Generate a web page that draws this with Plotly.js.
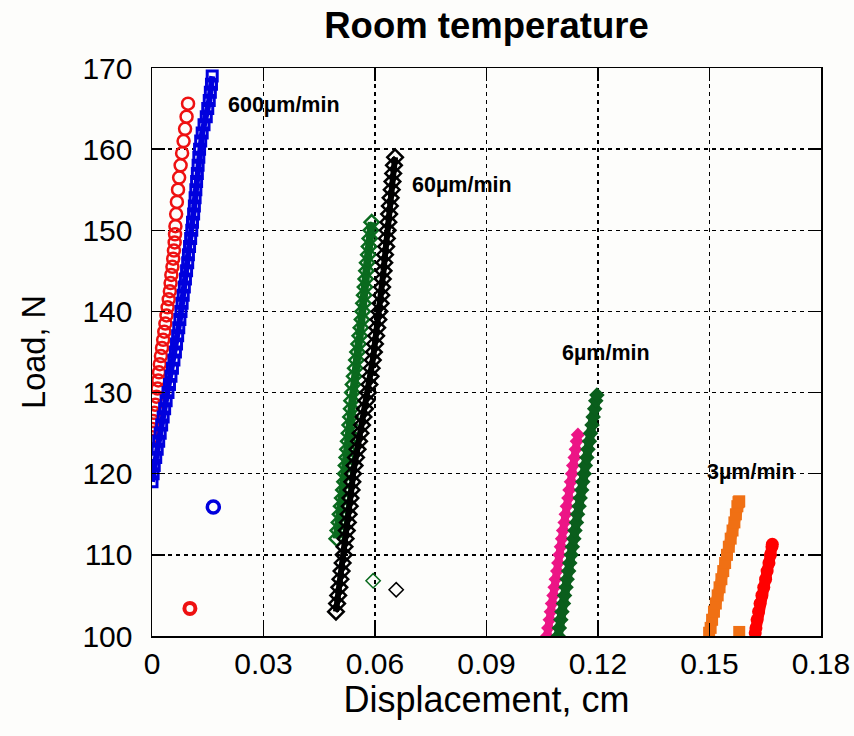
<!DOCTYPE html>
<html>
<head>
<meta charset="utf-8">
<script src="https://cdn.plot.ly/plotly-3.0.1.min.js"></script>
<style>html,body{margin:0;padding:0;background:#fdfdfb;}#chart{width:854px;height:736px;}</style>
</head>
<body>
<div id="chart"></div>
<script>
// 600 µm/min, run 1 (red open circles)
const red600X = [0.0000,0.0001,0.0003,0.0006,0.0009,0.0012,0.0015,0.0017,0.0019,0.0021,0.0024,0.0027,0.0030,0.0033,0.0036,0.0039,0.0042,0.0045,0.0048,0.0050,0.0052,0.0055,0.0057,0.0059,0.0061,0.0062,0.0063,0.0065,0.0067,0.0070,0.0073,0.0077,0.0081,0.0085,0.0089,0.0093,0.0097];
const red600Y = [124.5,125.5,126.5,127.5,128.5,129.5,130.5,131.5,132.5,133.5,134.5,135.5,136.5,137.5,138.5,139.5,140.5,141.5,142.5,143.5,144.5,145.5,146.5,147.5,148.5,149.5,150.5,152,153.5,155,156.5,158,159.5,161,162.5,164,165.6];
const red600IsoX = [0.0102];
const red600IsoY = [103.4];
// 600 µm/min, run 2 (blue open squares)
const blue600X = [0.0000,0.0003,0.0006,0.0010,0.0014,0.0018,0.0022,0.0026,0.0030,0.0034,0.0038,0.0043,0.0047,0.0051,0.0055,0.0059,0.0063,0.0066,0.0069,0.0072,0.0075,0.0078,0.0081,0.0084,0.0087,0.0090,0.0093,0.0096,0.0098,0.0101,0.0104,0.0107,0.0109,0.0112,0.0114,0.0116,0.0118,0.0120,0.0122,0.0124,0.0126,0.0128,0.0131,0.0135,0.0140,0.0146,0.0150,0.0154,0.0157,0.0160,0.0162];
const blue600Y = [119,120,121,122,123,124,125,126,127,128,129,130,131,132,133,134,135,136,137,138,139,140,141,142,143,144,145,146,147,148,149,150,151,152,153,154,155,156,157,158,159,160,161,162,163,164,165,166,167,168,169];
const blue600IsoX = [0.0165];
const blue600IsoY = [115.9];
// 60 µm/min, run 1 (green open diamonds)
const green60X = [0.0497,0.0500,0.0503,0.0506,0.0509,0.0512,0.0515,0.0518,0.0520,0.0522,0.0524,0.0526,0.0528,0.0530,0.0532,0.0534,0.0536,0.0537,0.0539,0.0541,0.0544,0.0547,0.0550,0.0553,0.0556,0.0559,0.0562,0.0565,0.0567,0.0569,0.0571,0.0573,0.0575,0.0577,0.0579,0.0582,0.0584,0.0586,0.0589,0.0591];
const green60Y = [112,113,114,115,116,117,118,119,120,121,122,123,124,125,126,127,128,129,130,131,132,133,134,135,136,137,138,139,140,141,142,143,144,145,146,147,148,149,150,151];
const green60IsoX = [0.0595];
const green60IsoY = [106.8];
// 60 µm/min, run 2 (black open diamonds)
const black60X = [0.0495,0.0498,0.0501,0.0504,0.0507,0.0510,0.0513,0.0516,0.0518,0.0521,0.0524,0.0527,0.0529,0.0532,0.0534,0.0537,0.0539,0.0541,0.0545,0.0549,0.0553,0.0557,0.0561,0.0565,0.0569,0.0573,0.0577,0.0581,0.0585,0.0588,0.0591,0.0594,0.0597,0.0600,0.0603,0.0606,0.0609,0.0612,0.0615,0.0617,0.0619,0.0621,0.0623,0.0625,0.0627,0.0630,0.0632,0.0634,0.0636,0.0638,0.0640,0.0642,0.0645,0.0647,0.0649,0.0651,0.0654];
const black60Y = [103,104,105,106,107,108,109,110,111,112,113,114,115,116,117,118,119,120,121,122,123,124,125,126,127,128,129,130,131,132,133,134,135,136,137,138,139,140,141,142,143,144,145,146,147,148,149,150,151,152,153,154,155,156,157,158,159];
const black60IsoX = [0.0657];
const black60IsoY = [105.7];
// 6 µm/min, run 1 (pink)
const pink6X = [0.1063,0.1066,0.1070,0.1073,0.1076,0.1080,0.1083,0.1086,0.1090,0.1093,0.1096,0.1100,0.1103,0.1106,0.1110,0.1113,0.1116,0.1120,0.1123,0.1127,0.1130,0.1133,0.1137,0.1140,0.1143,0.1146];
const pink6Y = [100,101,102,103,104,105,106,107,108,109,110,111,112,113,114,115,116,117,118,119,120,121,122,123,124,124.8];
// 6 µm/min, run 2 (dark green)
const dgreen6X = [0.1093,0.1096,0.1100,0.1103,0.1107,0.1110,0.1114,0.1117,0.1121,0.1124,0.1128,0.1131,0.1135,0.1138,0.1142,0.1145,0.1149,0.1152,0.1156,0.1159,0.1163,0.1166,0.1170,0.1173,0.1177,0.1180,0.1184,0.1187,0.1191,0.1194,0.1197];
const dgreen6Y = [100,101,102,103,104,105,106,107,108,109,110,111,112,113,114,115,116,117,118,119,120,121,122,123,124,125,126,127,128,129,129.7];
// 3 µm/min, run 1 (orange squares)
const orange3X = [0.1499,0.1503,0.1507,0.1512,0.1517,0.1522,0.1527,0.1532,0.1537,0.1542,0.1547,0.1552,0.1557,0.1562,0.1567,0.1571,0.1575,0.1578,0.1580];
const orange3Y = [100.4,101,102,103,104,105,106,107,108,109,110,111,112,113,114,115,116,116.5,116.6];
const orange3IsoX = [0.1580];
const orange3IsoY = [100.5];
// 3 µm/min, run 2 (red)
const red3X = [0.1623,0.1625,0.1628,0.1632,0.1636,0.1641,0.1646,0.1651,0.1655,0.1660,0.1664,0.1668,0.1669];
const red3Y = [100.4,101,102,103,104,105,106,107,108,109,110,111,111.3];

// rate labels
const labelText = ['600µm/min','60µm/min','6µm/min','3µm/min'];
const labelX = [0.0199,0.0694,0.1097,0.1487];
const labelY = [165.4,155.6,134.9,120.2];

const xTicks = [0,0.03,0.06,0.09,0.12,0.15,0.18];
const xTickText = ['0','0.03','0.06','0.09','0.12','0.15','0.18'];
const yTicks = [100,110,120,130,140,150,160,170];

const FONT = 'Liberation Sans, Arial, sans-serif';
const RED = '#ee1111', BLUE = '#0000dd', GREEN = '#0a6a1e', PINK = '#ec1586', DGREEN = '#0a5e1c', ORANGE = '#f07014', RED2 = '#ff0000';

const traces = [
  {x: red600X, y: red600Y, mode:'markers', type:'scatter',
   marker:{symbol:'circle-open', size:12, color:RED, line:{width:2.5, color:RED}}},
  {x: red600IsoX, y: red600IsoY, mode:'markers', type:'scatter',
   marker:{symbol:'circle-open', size:11, color:RED, line:{width:4, color:RED}}},
  {x: blue600X, y: blue600Y, mode:'lines+markers', type:'scatter',
   line:{color:BLUE, width:6},
   marker:{symbol:'square-open', size:10, color:BLUE, line:{width:3, color:BLUE}}},
  {x: blue600IsoX, y: blue600IsoY, mode:'markers', type:'scatter',
   marker:{symbol:'circle-open', size:12, color:BLUE, line:{width:3.5, color:BLUE}}},
  {x: green60X, y: green60Y, mode:'lines+markers', type:'scatter',
   line:{color:GREEN, width:8},
   marker:{symbol:'diamond-open', size:11, color:GREEN, line:{width:2.5, color:GREEN}}},
  {x: green60IsoX, y: green60IsoY, mode:'markers', type:'scatter',
   marker:{symbol:'diamond-open', size:11, color:GREEN, line:{width:1.5, color:GREEN}}},
  {x: black60X, y: black60Y, mode:'lines+markers', type:'scatter',
   line:{color:'#000', width:6},
   marker:{symbol:'diamond-open', size:12, color:'#000', line:{width:2.5, color:'#000'}}},
  {x: black60IsoX, y: black60IsoY, mode:'markers', type:'scatter',
   marker:{symbol:'diamond-open', size:11, color:'#000', line:{width:1.5, color:'#000'}}},
  {x: pink6X, y: pink6Y, mode:'lines+markers', type:'scatter',
   line:{color:PINK, width:8},
   marker:{symbol:'diamond', size:11, color:PINK}},
  {x: dgreen6X, y: dgreen6Y, mode:'lines+markers', type:'scatter',
   line:{color:DGREEN, width:9},
   marker:{symbol:'diamond', size:12, color:DGREEN}},
  {x: orange3X, y: orange3Y, mode:'lines+markers', type:'scatter',
   line:{color:ORANGE, width:11},
   marker:{symbol:'square', size:12, color:ORANGE}},
  {x: orange3IsoX, y: orange3IsoY, mode:'markers', type:'scatter',
   marker:{symbol:'square', size:12, color:ORANGE}},
  {x: red3X, y: red3Y, mode:'lines+markers', type:'scatter',
   line:{color:RED2, width:11},
   marker:{symbol:'circle', size:13, color:RED2}}
];

const annotations = labelText.map((t,i)=>({
  x: labelX[i], y: labelY[i], xref:'x', yref:'y', text: t, showarrow:false,
  xanchor:'left', yanchor:'middle',
  font:{family:FONT, size:21.5, color:'#000', weight:'bold'}
}));

const axisCommon = {
  showline:true, mirror:'ticks', linecolor:'#000', linewidth:1.5,
  ticks:'inside', ticklen:13, tickwidth:1.5, tickcolor:'#000',
  showgrid:true, gridcolor:'#000', gridwidth:1.3, griddash:'4px,4px',
  zeroline:false,
  tickfont:{family:FONT, size:30, color:'#000'}
};

const layout = {
  width:854, height:736,
  margin:{l:152, r:33, t:68, b:100, pad:0},
  paper_bgcolor:'#fdfdfb', plot_bgcolor:'#fdfdfb',
  showlegend:false,
  title:{text:'<b>Room temperature</b>', x:0.5, xanchor:'center', xref:'paper',
         y:0.966, yref:'container', yanchor:'middle',
         font:{family:FONT, size:36.5, color:'#000'}},
  xaxis: Object.assign({}, axisCommon, {
    range:[0,0.18], tickvals:xTicks, ticktext:xTickText, ticklabelstandoff:0,
    title:{text:'Displacement, cm', standoff:0,
           font:{family:FONT, size:36, color:'#000'}}
  }),
  yaxis: Object.assign({}, axisCommon, {
    range:[100,170], tickvals:yTicks, ticklabelstandoff:12,
    title:{text:'Load, N', standoff:27,
           font:{family:FONT, size:32.5, color:'#000'}}
  }),
  annotations: annotations
};

Plotly.newPlot('chart', traces, layout, {displayModeBar:false, staticPlot:true});
</script>
</body>
</html>
